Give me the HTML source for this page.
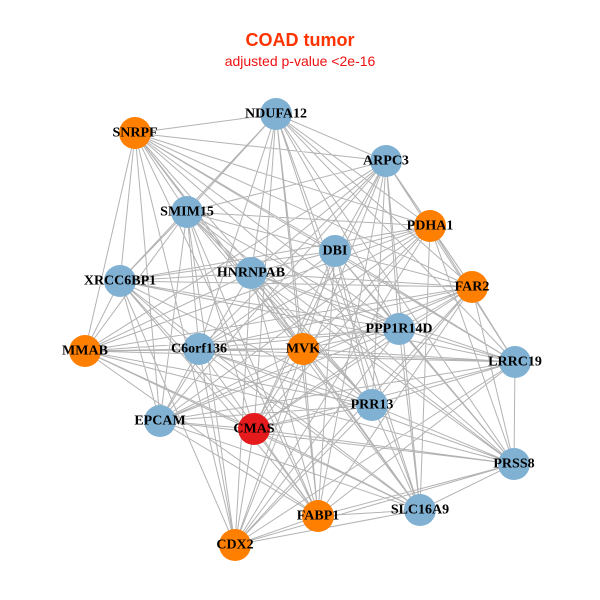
<!DOCTYPE html>
<html><head><meta charset="utf-8"><style>
html,body{margin:0;padding:0;background:#fff;width:600px;height:600px;overflow:hidden}
svg{display:block}
.l{font-family:"Liberation Serif",serif;font-weight:bold;font-size:14px;fill:#000;text-anchor:middle;dominant-baseline:central}
</style></head><body>
<svg id="s" width="600" height="600" xmlns="http://www.w3.org/2000/svg">
<text x="300" y="46" text-anchor="middle" font-family="Liberation Sans,sans-serif" font-weight="bold" font-size="18" fill="#ff3300">COAD tumor</text>
<text x="300" y="66" text-anchor="middle" font-family="Liberation Sans,sans-serif" font-size="14" fill="#ee1111">adjusted p-value &lt;2e-16</text>
<g id="e" stroke="#b3b3b3" stroke-width="1"></g>
<g id="n"></g>
<g>
<text class="l" x="276" y="114">NDUFA12</text>
<text class="l" x="135" y="133">SNRPF</text>
<text class="l" x="386" y="161">ARPC3</text>
<text class="l" x="187" y="212">SMIM15</text>
<text class="l" x="430" y="226">PDHA1</text>
<text class="l" x="335" y="251">DBI</text>
<text class="l" x="251" y="273">HNRNPAB</text>
<text class="l" x="120" y="281">XRCC6BP1</text>
<text class="l" x="472" y="287">FAR2</text>
<text class="l" x="399" y="329">PPP1R14D</text>
<text class="l" x="85" y="351">MMAB</text>
<text class="l" x="199" y="349">C6orf136</text>
<text class="l" x="303" y="349">MVK</text>
<text class="l" x="515" y="362">LRRC19</text>
<text class="l" x="372" y="405">PRR13</text>
<text class="l" x="160" y="421">EPCAM</text>
<text class="l" x="254" y="429">CMAS</text>
<text class="l" x="514" y="464">PRSS8</text>
<text class="l" x="420" y="510">SLC16A9</text>
<text class="l" x="318" y="516">FABP1</text>
<text class="l" x="235" y="545">CDX2</text>
</g>
</svg>
<script>
var N=[[276,114,'b'],[135,133,'o'],[386,161,'b'],[187,212,'b'],[430,226,'o'],[335,251,'b'],[251,273,'b'],[120,281,'b'],[472,287,'o'],[399,329,'b'],[85,351,'o'],[199,349,'b'],[303,349,'o'],[515,362,'b'],[372,405,'b'],[160,421,'b'],[254,429,'r'],[514,464,'b'],[420,510,'b'],[318,516,'o'],[235,545,'o']];
var C={b:'#80b1d3',o:'#ff7f00',r:'#e41a1c'};
var ns='http://www.w3.org/2000/svg',e=document.getElementById('e'),n=document.getElementById('n'),d='';
for(var i=0;i<N.length;i++)for(var j=i+1;j<N.length;j++){
 if(((i*7+j*3)%5)==0)continue;
 d+='M'+N[i][0]+' '+N[i][1]+'L'+N[j][0]+' '+N[j][1];}
var p=document.createElementNS(ns,'path');p.setAttribute('d',d);p.setAttribute('fill','none');e.appendChild(p);
N.forEach(function(a){var c=document.createElementNS(ns,'circle');c.setAttribute('cx',a[0]);c.setAttribute('cy',a[1]);c.setAttribute('r',16);c.setAttribute('fill',C[a[2]]);n.appendChild(c);});
</script>
</body></html>
